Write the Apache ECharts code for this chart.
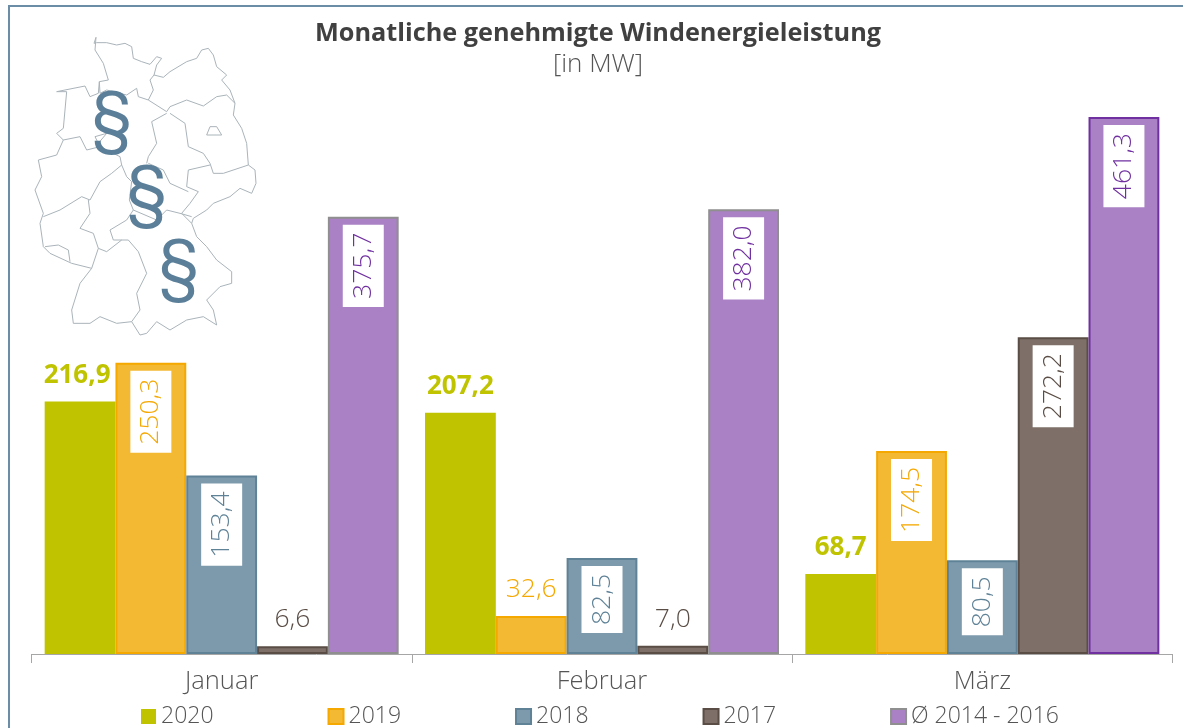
<!DOCTYPE html>
<html>
<head>
<meta charset="utf-8">
<title>Monatliche genehmigte Windenergieleistung</title>
<style>
html, body { margin: 0; padding: 0; background: #fff; }
#chart { width: 1183px; height: 728px; }
</style>
<script src="https://cdn.jsdelivr.net/npm/echarts@6/dist/echarts.min.js"></script>
</head>
<body>
<div id="chart"></div>
<script>
var months = ['Januar', 'Februar', 'März'];
var seriesNames = ['2020', '2019', '2018', '2017', 'Ø 2014 - 2016'];
var values2020 = [216.9, 207.2, 68.7];
var values2019 = [250.3, 32.6, 174.5];
var values2018 = [153.4, 82.5, 80.5];
var values2017 = [6.6, 7.0, 272.2];
var valuesAvg = [375.7, 382.0, 461.3];

var font = '"Open Sans", "Noto Sans", sans-serif';
var textColor = '#555555';

function fmt(v) {
	return v.toFixed(1).replace('.', ',');
}

function makeSeries(name, values, fill, border, labelColor, bold) {
	return {
		name: name,
		type: 'bar',
		barWidth: 70.8,
		barGap: 0,
		itemStyle: { color: fill, borderColor: border, borderWidth: bold ? 0 : 2 },
		data: values.map(function (v) {
			var above = bold || v < 50; //short bars get a plain label on top
			return {
				value: v,
				label: above ? {
					show: true,
					position: 'top',
					distance: 13,
					formatter: fmt(v),
					color: labelColor,
					fontFamily: font,
					fontSize: bold ? 26 : 26.5,
					fontWeight: bold ? 700 : 300
				} : {
					show: true,
					position: 'insideTop',
					distance: 8,
					rotate: 90,
					align: 'right',
					verticalAlign: 'middle',
					formatter: fmt(v),
					color: labelColor,
					fontFamily: font,
					fontSize: 26.5,
					fontWeight: 300,
					backgroundColor: '#fff',
					padding: [7, 8, 7, 8]
				}
			};
		})
	};
}

var series = [
	makeSeries(seriesNames[0], values2020, '#bfc300', '#bfc300', '#bfc300', true),
	makeSeries(seriesNames[1], values2019, '#f3b933', '#f5a800', '#f5a800'),
	makeSeries(seriesNames[2], values2018, '#7d9aad', '#5f8297', '#5f8297'),
	makeSeries(seriesNames[3], values2017, '#7e7068', '#5a4d45', '#5a4d45'),
	makeSeries(seriesNames[4], valuesAvg, '#a981c4', '#8f8f8f', '#7030a0')
];
// only the March bar has the purple outline
series[4].data[2].itemStyle = { borderColor: '#7030a0' };
series[0].data[0].label.offset = [-3, 0];

// hand traced outline of the map, in 3x px
var mapLines = [
	[288,112,282,130,290,128,320,128,350,135,375,130,395,140,400,175,425,185,450,193,470,170,485,175,470,195,462,225,490,232,510,215,560,185,590,175,605,150,625,145,640,165,650,200,680,225,665,240,690,270,705,310,700,345,725,385,740,430,745,495,765,510,768,550,755,580,720,565,690,590,640,610,620,630,580,655,575,670,590,710,620,740,650,780,695,815,695,850,660,860,620,900,640,930,650,975,610,950,560,960,510,990,470,965,440,1000,420,1005,395,965,350,970,300,950,270,970,220,970,215,930,240,850,275,805,215,790,150,760,130,740,120,670,130,640,105,570,125,530,115,480,170,465,190,420,170,400,190,385,200,275,170,275,255,258,270,290,295,280,298,245,325,240,310,190,285,150,288,112],
	[445,300,460,270,450,240,462,225],
	[298,245,300,280,320,270,380,285,410,265,415,290,445,300,500,335],
	[500,335,510,320,560,300,610,318,650,290,680,285,705,310],
	[510,340,555,370,565,440,610,460,630,490,640,520,670,520,745,495],
	[500,340,455,365,470,430,445,470,440,490],
	[445,490,490,510,510,550,565,575],
	[630,495,565,510,560,560,595,575,570,610,545,640,575,670],
	[575,650,540,640,500,630,470,660,400,630,380,660,330,690],
	[365,495,380,530,395,545,388,600,400,630],
	[190,420,240,410,260,450,300,440,360,470,365,495],
	[365,495,335,520,300,545,270,600,245,590,180,630,130,650],
	[265,600,270,640,240,685,280,700,295,745,320,755,365,720],
	[330,690,340,720,385,720,415,755,440,820,410,880,420,930,395,965],
	[295,745,275,805],
	[135,740,175,735,205,750,210,785],
	[620,405,630,380,650,380,665,405,620,405],
	[285,410,320,400,295,430,285,410]
];

function toPoints(flat) {
	var pts = [];
	for (var i = 0; i < flat.length; i += 2) {
		pts.push([flat[i], flat[i + 1]]);
	}
	return pts;
}

var graphics = mapLines.map(function (flat) {
	return {
		type: 'polyline',
		x: 0, y: 0, scaleX: 1 / 3, scaleY: 1 / 3,
		shape: { points: toPoints(flat) },
		style: { stroke: '#aab4ba', lineWidth: 3, fill: null }
	};
});
[[112, 122], [147, 196], [179, 270]].forEach(function (p) {
	graphics.push({
		type: 'text', x: p[0], y: p[1], z: 5,
		style: {
			text: '§', fill: '#5b7f99', fontFamily: 'Roboto, sans-serif', fontSize: 66,
			textAlign: 'center', textVerticalAlign: 'middle'
		}
	});
});
// frame only shows on the left and top
graphics.push({ type: 'line', shape: { x1: 9, y1: 6, x2: 9, y2: 728 }, style: { stroke: '#6b8ea6', lineWidth: 2 } });
graphics.push({ type: 'line', shape: { x1: 8, y1: 6, x2: 1183, y2: 6 }, style: { stroke: '#6b8ea6', lineWidth: 2 } });

var chart = echarts.init(document.getElementById('chart'));
chart.setOption({
	animation: false,
	backgroundColor: '#fff',
	title: {
		text: 'Monatliche genehmigte Windenergieleistung',
		subtext: '[in MW]',
		left: 593,
		top: 16,
		textAlign: 'center',
		itemGap: 6,
		textStyle: { fontFamily: font, fontSize: 25.25, fontWeight: 700, color: '#404040' },
		subtextStyle: { fontFamily: font, fontSize: 26, fontWeight: 300, color: textColor }
	},
	legend: {
		left: 136,
		top: 700,
		itemWidth: 15,
		itemHeight: 15,
		itemGap: 114,
		selectedMode: false,
		icon: 'rect',
		textStyle: { fontFamily: font, fontSize: 23, fontWeight: 300, color: textColor }
	},
	grid: { left: 31.5, top: 72, width: 1141, height: 582 },
	xAxis: {
		type: 'category',
		data: months,
		axisLine: { lineStyle: { color: '#a6a6a6', width: 1 } },
		axisTick: { show: true, length: 9, alignWithLabel: false, lineStyle: { color: '#a6a6a6' } },
		axisLabel: { margin: 15, fontFamily: font, fontSize: 25.5, fontWeight: 300, color: textColor }
	},
	yAxis: { type: 'value', min: 0, max: 500, show: false },
	series: series,
	graphic: graphics
});
</script>
</body>
</html>
